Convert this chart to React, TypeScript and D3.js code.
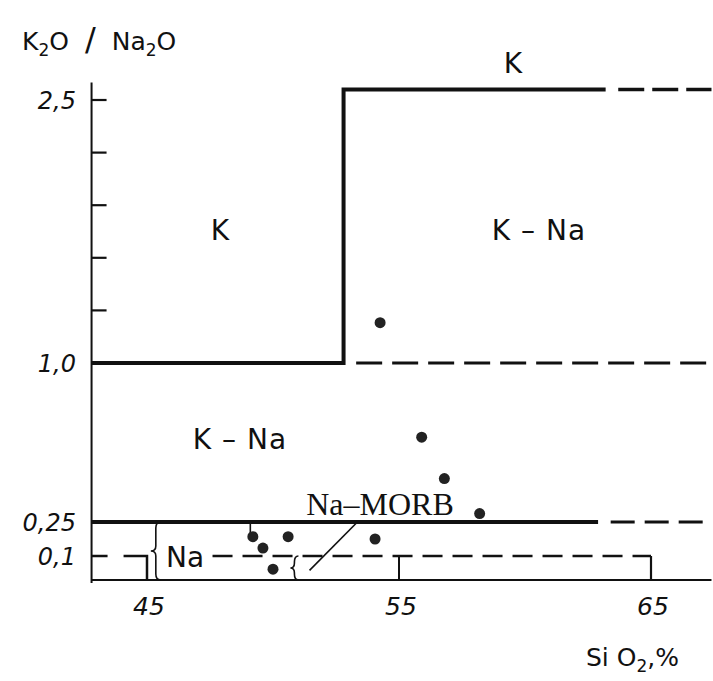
import React from "react";
import * as d3 from "d3";

// ---- data ----
const samplesSiO2 = [54.25, 55.9, 56.8, 58.2, 49.2, 49.6, 50.6, 50.0, 54.05];
const samplesRatio = [1.23, 0.65, 0.455, 0.29, 0.185, 0.135, 0.185, 0.045, 0.175];

const yTickValues = [1.0, 1.3, 1.6, 1.9, 2.2, 2.5];
const yTickLabels = [
  { v: 2.5, t: "2,5" },
  { v: 1.0, t: "1,0" },
  { v: 0.25, t: "0,25" },
  { v: 0.1, t: "0,1" },
];
const xTickValues = [45, 55, 65];

const siMin = 42.8;
const siMax = 67.4;
const ratioTop = 2.6;
const kBoundary = 2.56;
const stepSi = 52.8;
const solidEndTop = 63.2;
const solidEnd025 = 62.9;
const dashStart1 = 53.3;
const naLeft = 45;
const naRight = 65;
const naMid = 55;
const naTextEnd = 47.6;

const W = 713;
const H = 681;

export default function App() {
  const x = d3.scaleLinear().domain([45, 65]).range([147, 651]);
  const y = d3
    .scaleLinear()
    .domain([0, 0.1, 0.25, 1.0, 2.5])
    .range([580, 556, 522, 363, 100]);

  const line = d3
    .line<[number, number]>()
    .x((d) => x(d[0]))
    .y((d) => y(d[1]));

  const sans = "'DejaVu Sans', Verdana, sans-serif";
  const serif = "'Liberation Serif', 'Times New Roman', serif";
  const ink = "#111";

  const brace = (xc: number, y0: number, y1: number, w: number) => {
    const ym = (y0 + y1) / 2;
    return `M${xc + w},${y0} Q${xc},${y0} ${xc},${y0 + 6} L${xc},${ym - 5} Q${xc},${ym} ${xc - w},${ym} Q${xc},${ym} ${xc},${ym + 5} L${xc},${y1 - 6} Q${xc},${y1} ${xc + w},${y1}`;
  };

  return (
    <svg width={W} height={H} style={{ position: "absolute", left: 0, top: 0, background: "#fff" }}>
      <rect width={W} height={H} fill="#fff" />
      {/* axes */}
      <path d={line([[siMin, ratioTop], [siMin, -0.012]])} stroke={ink} strokeWidth={2} fill="none" />
      <path d={line([[siMin, 0], [siMax, 0]])} stroke={ink} strokeWidth={2.2} fill="none" />
      {yTickValues.map((v) => (
        <line key={v} x1={x(siMin)} x2={x(siMin) + 15} y1={y(v)} y2={y(v)} stroke={ink} strokeWidth={2.2} />
      ))}

      {/* region boundaries */}
      <path
        d={line([[siMin, 1.0], [stepSi, 1.0], [stepSi, kBoundary], [solidEndTop, kBoundary]])}
        stroke={ink}
        strokeWidth={4}
        fill="none"
        strokeLinejoin="miter"
      />
      <path d={line([[solidEndTop + 0.5, kBoundary], [siMax, kBoundary]])} stroke={ink} strokeWidth={3.5} strokeDasharray="26,8" fill="none" />
      <path d={line([[dashStart1, 1.0], [siMax, 1.0]])} stroke={ink} strokeWidth={3} strokeDasharray="26,10" fill="none" />
      <path d={line([[siMin, 0.25], [solidEnd025, 0.25]])} stroke={ink} strokeWidth={4} fill="none" />
      <path d={line([[solidEnd025 + 0.5, 0.25], [siMax, 0.25]])} stroke={ink} strokeWidth={3} strokeDasharray="24,10" fill="none" />

      {/* Na field (0.1) */}
      <path d={line([[siMin, 0.1], [naLeft, 0.1], [naLeft, 0]])} stroke={ink} strokeWidth={2.5} strokeDasharray="16,16,22,0,30,0" fill="none" />
      <path d={line([[naTextEnd, 0.1], [naRight, 0.1]])} stroke={ink} strokeWidth={2.5} strokeDasharray="20,10" fill="none" />
      <path d={line([[naRight, 0.1], [naRight, 0]])} stroke={ink} strokeWidth={2.2} fill="none" />
      <path d={line([[naMid, 0.1], [naMid, 0]])} stroke={ink} strokeWidth={2} fill="none" />

      {/* braces */}
      <path d={brace(x(45.35), y(0.25), y(0), 5)} stroke={ink} strokeWidth={1.6} fill="none" />
      <path d={brace(x(50.85), y(0.1), y(0), 4)} stroke={ink} strokeWidth={1.6} fill="none" />
      <path d={line([[49.1, 0.25], [49.1, 0.19]])} stroke={ink} strokeWidth={1.6} fill="none" />
      {/* Na-MORB leader */}
      <path d={line([[53.35, 0.25], [51.45, 0.04]])} stroke={ink} strokeWidth={1.6} fill="none" />

      {/* samples */}
      {samplesSiO2.map((s, i) => (
        <circle key={i} cx={x(s)} cy={y(samplesRatio[i])} r={5.5} fill="#222" />
      ))}

      {/* field labels */}
      <g fontFamily={sans} fill={ink} textAnchor="middle">
        <text x={513} y={73} fontSize={28}>K</text>
        <text x={220} y={240} fontSize={28}>K</text>
        <text x={539} y={240} fontSize={28} letterSpacing={1}>K – Na</text>
        <text x={240} y={449} fontSize={28} letterSpacing={1}>K – Na</text>
        <text x={185} y={567} fontSize={28}>Na</text>
      </g>
      <text x={380} y={515} fontSize={32} fontFamily={serif} fill={ink} textAnchor="middle">Na–MORB</text>

      {/* y tick labels */}
      <g fontFamily={sans} fontStyle="italic" fill={ink} textAnchor="end" fontSize={24}>
        {yTickLabels.map((d) => (
          <text key={d.t} x={76} y={y(d.v) + 9}>{d.t}</text>
        ))}
      </g>
      {/* x tick labels */}
      <g fontFamily={sans} fontStyle="italic" fill={ink} textAnchor="middle" fontSize={25}>
        {xTickValues.map((v) => (
          <text key={v} x={x(v) + 2} y={615}>{v}</text>
        ))}
      </g>

      {/* axis titles */}
      <text x={22} y={50} fontFamily={sans} fontSize={25} fill={ink}>
        K<tspan fontSize={17} dy={6}>2</tspan>
        <tspan dy={-6}>O</tspan>
        <tspan dx={16} fontSize={32}>/</tspan>
        <tspan dx={16}>Na</tspan>
        <tspan fontSize={17} dy={6}>2</tspan>
        <tspan dy={-6}>O</tspan>
      </text>
      <text x={586} y={666} fontFamily={sans} fontSize={25} fill={ink}>
        Si O<tspan fontSize={17} dy={6}>2</tspan>
        <tspan dy={-6}>,%</tspan>
      </text>
    </svg>
  );
}
